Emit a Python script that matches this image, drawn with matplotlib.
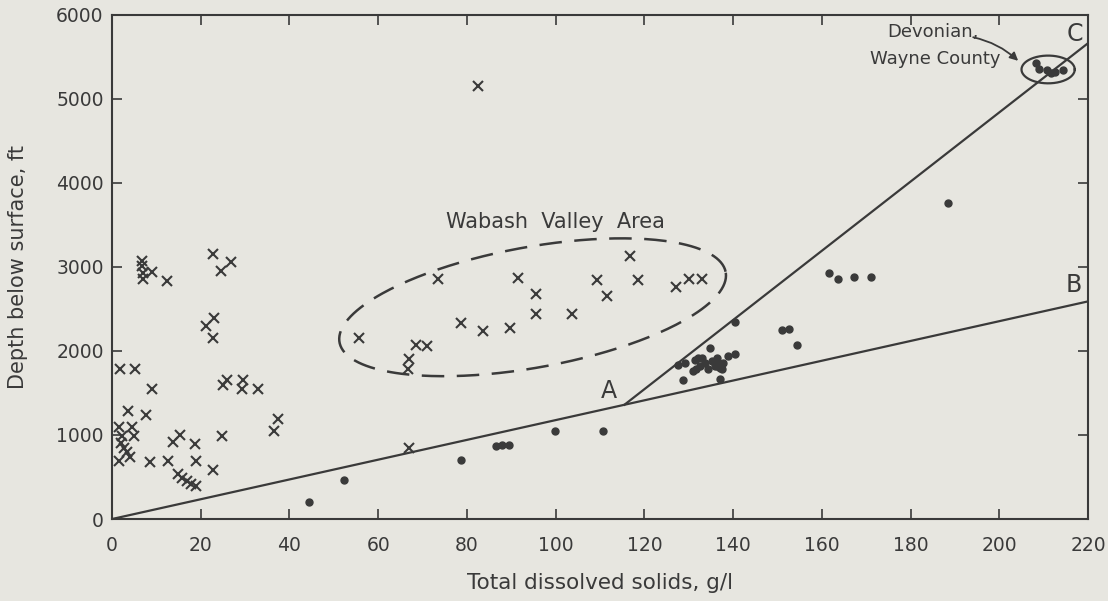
import numpy as np
import matplotlib
matplotlib.use('Agg')
import matplotlib.pyplot as plt

# open symbols (x) : total dissolved solids g/l, depth ft
cross_tds = [6.7, 6.7, 7.0, 7.0, 9.0, 12.4, 22.8, 26.8, 24.5, 23.0, 21.2, 22.7,
             1.8, 5.1, 9.0, 25.9, 25.0, 29.6, 29.2, 32.9, 3.5, 7.7, 37.3, 36.5,
             1.6, 4.6, 2.2, 5.0, 2.0, 2.6, 3.3, 4.1, 1.6, 8.6, 12.6, 19.0,
             15.3, 13.8, 18.6, 24.7, 22.8, 14.9, 15.8, 16.9, 17.9, 18.9,
             73.4, 91.4, 95.6, 95.6, 103.7, 89.6, 83.6, 78.6, 55.6, 68.5, 71.1,
             67.0, 66.7, 109.4, 111.5, 116.7, 118.5, 127.2, 130.0, 132.9,
             67.0, 82.5]
cross_depth = [3068, 3011, 2924, 2860, 2935, 2830, 3151, 3060, 2947, 2398, 2303, 2151,
               1788, 1788, 1553, 1659, 1591, 1659, 1553, 1553, 1288, 1242, 1186, 1042,
               1099, 1099, 992, 985, 909, 841, 795, 739, 693, 682, 690, 693,
               1004, 917, 898, 985, 580, 530, 485, 450, 420, 398,
               2860, 2867, 2678, 2435, 2435, 2273, 2235, 2330, 2159, 2076, 2057,
               1902, 1788, 2841, 2651, 3125, 2841, 2758, 2860, 2860,
               841, 5150]

# solid dots
dot_tds = [44.4, 52.2, 78.7, 86.6, 88.0, 89.4, 99.8, 110.7,
           127.6, 129.1, 131.4, 132.5, 131.0, 133.6, 135.2, 136.3, 137.4, 137.8,
           132.9, 132.1, 131.7, 134.4, 136.3, 135.9, 137.0, 136.7, 128.7, 137.0,
           134.8, 138.9, 140.5, 140.5,
           151.1, 152.6, 154.3, 161.5, 163.7, 167.2, 171.1, 188.5,
           208.3, 209.0, 210.8, 211.6, 212.6, 214.4]
dot_depth = [205, 462, 701, 870, 875, 880, 1053, 1053,
             1837, 1856, 1894, 1818, 1761, 1856, 1875, 1818, 1780, 1856,
             1913, 1913, 1780, 1780, 1913, 1818, 1799, 1856, 1659, 1667,
             2038, 1940, 1962, 2350,
             2253, 2265, 2072, 2924, 2860, 2879, 2886, 3760,
             5424, 5360, 5341, 5310, 5322, 5348]

# reference lines O-A-B and A-C
line_ob_x = [0, 220]
line_ob_y = [0, 2590]
line_ac_x = [115.5, 220]
line_ac_y = [1360, 5663]

x_ticks = list(range(0, 221, 20))
y_ticks = list(range(0, 6001, 1000))

bg = '#e7e6e0'
ink = '#3a3a3a'
plt.rcParams['font.family'] = ['DejaVu Sans']

fig = plt.figure(figsize=(11.08, 6.01), dpi=100, facecolor=bg)
ax = fig.add_axes([0.1011, 0.1364, 0.8809, 0.8389], facecolor=bg)

ax.plot(line_ob_x, line_ob_y, color=ink, lw=1.6)
ax.plot(line_ac_x, line_ac_y, color=ink, lw=1.6)

ax.plot(cross_tds, cross_depth, 'x', color=ink, ms=7, mew=1.5, ls='none')
ax.plot(dot_tds, dot_depth, 'o', color=ink, ms=5, ls='none')

ax.set_xlim(0, 220)
ax.set_ylim(0, 6000)
ax.set_xticks(x_ticks)
ax.set_yticks(y_ticks)
ax.tick_params(direction='in', length=7, width=1.2, colors=ink, labelsize=13.5,
               top=True, right=True, labelcolor=ink)
ax.tick_params(axis='x', pad=12)
ax.tick_params(axis='y', pad=6)
for s in ax.spines.values():
    s.set_color(ink)
    s.set_linewidth(1.5)

ax.set_xlabel('Total dissolved solids, g/l', fontsize=15.5, color=ink, labelpad=13)
ax.set_ylabel('Depth below surface, ft', fontsize=15, color=ink, labelpad=20)

# tilted dashed ellipse round the Wabash Valley points
sx = 4.4     # px per g/l used when the outline was measured
sy = 0.088   # px per ft
t = np.linspace(0, 2 * np.pi, 300)
ang = np.deg2rad(11)
a_px, b_px = 195, 63
ux = a_px * np.cos(t) * np.cos(ang) - b_px * np.sin(t) * np.sin(ang)
uy = a_px * np.cos(t) * np.sin(ang) + b_px * np.sin(t) * np.cos(ang)
ax.plot(94.8 + ux / sx, 2520 + uy / sy, color=ink, lw=1.8, dashes=(9, 5))

# small ellipse round the Devonian points
ax.plot(211.0 + 6.0 * np.cos(t), 5350 + 165 * np.sin(t), color=ink, lw=1.6)

ax.text(100, 3540, 'Wabash  Valley  Area', fontsize=15, color=ink, ha='center', va='center')
ax.text(112, 1520, 'A', fontsize=17, color=ink, ha='center', va='center')
ax.text(216.8, 2780, 'B', fontsize=17, color=ink, ha='center', va='center')
ax.text(217, 5770, 'C', fontsize=17, color=ink, ha='center', va='center')
ax.text(185, 5790, 'Devonian,', fontsize=13, color=ink, ha='center', va='center')
ax.text(185.5, 5470, 'Wayne County', fontsize=13, color=ink, ha='center', va='center')
ax.annotate('', xy=(204.7, 5430), xytext=(193.5, 5740),
            arrowprops=dict(arrowstyle='-|>', color=ink, lw=1.3,
                            connectionstyle='arc3,rad=-0.15', mutation_scale=12))

fig.savefig('out.png', dpi=100, facecolor=bg)
